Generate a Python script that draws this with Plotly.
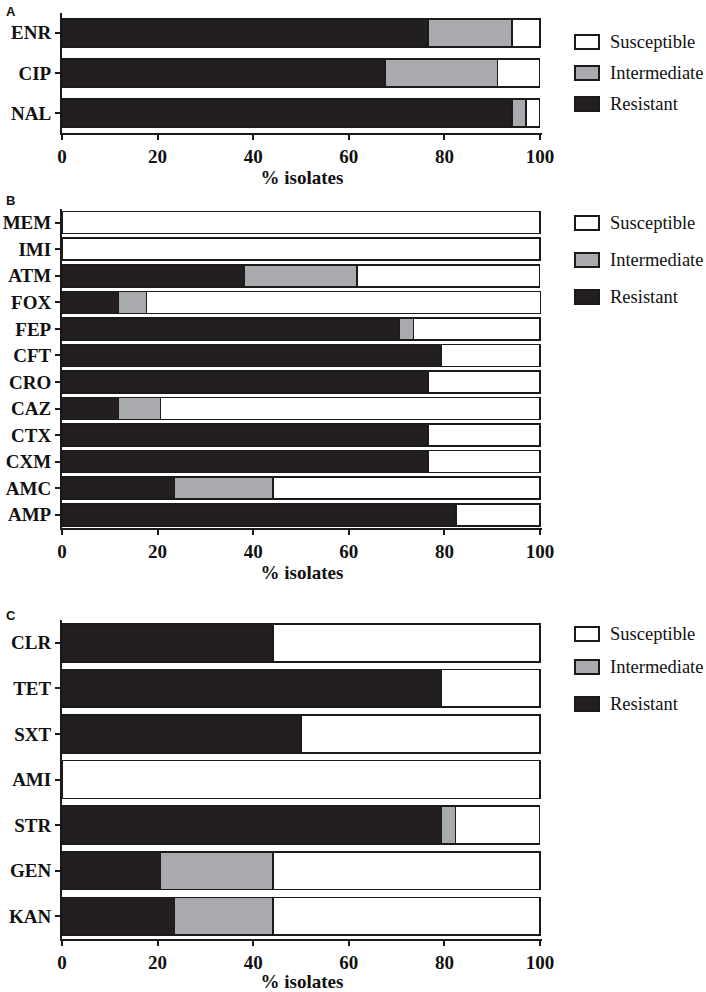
import plotly.graph_objects as go

# --- data (% of isolates) ---
a_drugs = ["ENR", "CIP", "NAL"]
a_res = [76.5, 67.6, 94.1]
a_int = [17.6, 23.5, 2.9]
a_sus = [5.9, 8.8, 2.9]

b_drugs = ["MEM", "IMI", "ATM", "FOX", "FEP", "CFT", "CRO", "CAZ", "CTX", "CXM", "AMC", "AMP"]
b_res = [0, 0, 38.2, 11.8, 70.6, 79.4, 76.5, 11.8, 76.5, 76.5, 23.5, 82.4]
b_int = [0, 0, 23.5, 5.9, 2.9, 0, 0, 8.8, 0, 0, 20.6, 0]
b_sus = [100, 100, 38.2, 82.4, 26.5, 20.6, 23.5, 79.4, 23.5, 23.5, 55.9, 17.6]

c_drugs = ["CLR", "TET", "SXT", "AMI", "STR", "GEN", "KAN"]
c_res = [44.1, 79.4, 50.0, 0, 79.4, 20.6, 23.5]
c_int = [0, 0, 0, 0, 2.9, 23.5, 20.6]
c_sus = [55.9, 20.6, 50.0, 100, 17.6, 55.9, 55.9]

x_ticks = [0, 20, 40, 60, 80, 100]
panel_letters = ["A", "B", "C"]
legend_names = ["Susceptible", "Intermediate", "Resistant"]

W, H = 706, 992
L, R = 62, 164
PW = W - L - R

col_res = "#231f20"
col_int = "#a8aaad"
col_sus = "#ffffff"
edge = "#1a1a1a"
legend_cols = {"Susceptible": col_sus, "Intermediate": col_int, "Resistant": col_res}

serif = "Liberation Serif"


def px_x(p):
    return (p - L) / PW


def px_y(p):
    return 1 - p / H


panels = [
    # drugs, res, int, sus, y top px, y bottom px, bargap, letter y px, legend item y px
    (a_drugs, a_res, a_int, a_sus, 12.7, 133.0, 0.30, 11, [42, 73, 104]),
    (b_drugs, b_res, b_int, b_sus, 209.4, 528.0, 0.17, 200, [223, 260, 297]),
    (c_drugs, c_res, c_int, c_sus, 620.0, 939.0, 0.17, 615, [634, 667, 704]),
]

fig = go.Figure()
layout = {}
annotations = []
shapes = []

for k, (drugs, res, inter, sus, ytop, ybot, gap, letter_y, leg_y) in enumerate(panels):
    n = k + 1
    xa = "x" if n == 1 else "x%d" % n
    ya = "y" if n == 1 else "y%d" % n

    # stacked left to right: Resistant, Intermediate, Susceptible
    for name, vals, col in [("Resistant", res, col_res),
                            ("Intermediate", inter, col_int),
                            ("Susceptible", sus, col_sus)]:
        fig.add_trace(go.Bar(
            y=drugs, x=vals, name=name, orientation="h", width=1 - gap,
            marker=dict(color=col, line=dict(color=edge, width=1.6)),
            xaxis=xa, yaxis=ya, showlegend=False, hoverinfo="x+y+name",
        ))

    xkey = "xaxis" if n == 1 else "xaxis%d" % n
    ykey = "yaxis" if n == 1 else "yaxis%d" % n
    layout[xkey] = dict(
        domain=[0, 1], anchor=ya, range=[0, 100.4],
        tickvals=x_ticks, ticks="outside", ticklen=5, tickwidth=2, tickcolor=edge,
        showline=True, linewidth=2, linecolor=edge, showgrid=False, zeroline=False,
        tickfont=dict(family=serif, size=19, color="#111", weight=700),
        title=dict(text="% isolates", standoff=4,
                   font=dict(family=serif, size=19, color="#111", weight=700)),
    )
    layout[ykey] = dict(
        domain=[px_y(ybot), px_y(ytop)], anchor=xa, type="category",
        categoryorder="array", categoryarray=drugs,
        range=[len(drugs) - 0.5, -0.5],
        ticks="outside", ticklen=5, tickwidth=2, tickcolor=edge,
        showline=True, linewidth=2, linecolor=edge, showgrid=False, zeroline=False,
        tickfont=dict(family=serif, size=19, color="#111", weight=700),
    )

    # panel letter
    annotations.append(dict(
        text="<b>%s</b>" % panel_letters[k], xref="paper", yref="paper",
        x=px_x(4), y=px_y(letter_y), xanchor="left", yanchor="middle",
        showarrow=False, font=dict(family="Liberation Sans", size=13, color="#111"),
    ))

    # legend: wide boxes like the original
    for name, yc in zip(legend_names, leg_y):
        shapes.append(dict(
            type="rect", xref="paper", yref="paper",
            x0=px_x(575), x1=px_x(599), y0=px_y(yc + 7), y1=px_y(yc - 7),
            fillcolor=legend_cols[name], line=dict(color=edge, width=2),
        ))
        annotations.append(dict(
            text=name, xref="paper", yref="paper",
            x=px_x(608), y=px_y(yc), xanchor="left", yanchor="middle",
            showarrow=False, font=dict(family=serif, size=18.5, color="#111"),
        ))

fig.update_layout(
    width=W, height=H,
    margin=dict(l=L, r=R, t=0, b=0, autoexpand=False),
    plot_bgcolor="white", paper_bgcolor="white",
    barmode="stack", showlegend=False,
    annotations=annotations, shapes=shapes,
    **layout,
)

# drop the page's default 8px body margin so the figure sits at the window corner
fig.write_html("out.html", config={"displayModeBar": False},
               post_script="document.body.style.margin='0px';")
